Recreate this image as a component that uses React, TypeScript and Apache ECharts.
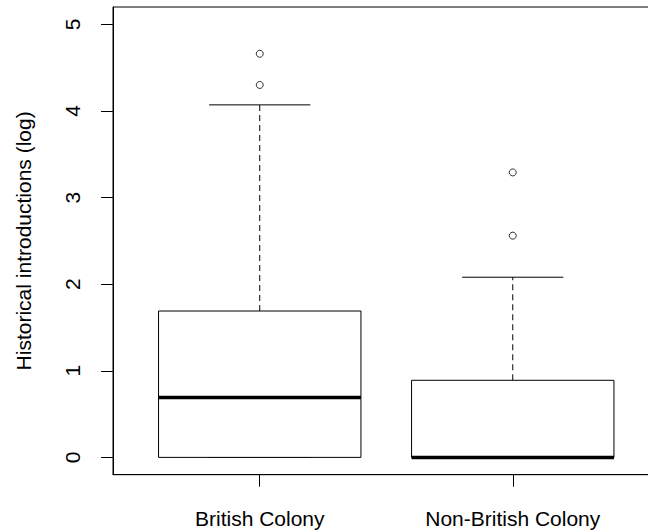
import React, { useEffect, useRef } from "react";
import * as echarts from "echarts";

const categories = ["British Colony", "Non-British Colony"];
const lowerWhisker = [0, 0];
const q1 = [0, 0];
const median = [0.69, 0];
const q3 = [1.69, 0.89];
const upperWhisker = [4.07, 2.08];
const outlierGroup = [1, 1, 2, 2];
const outlierValue = [4.3, 4.66, 2.56, 3.29];
const yTicks = [0, 1, 2, 3, 4, 5];
const xTicks = [1, 2];

const FONT = "Liberation Sans, Arial, sans-serif";

export default function App() {
  const ref = useRef<HTMLDivElement>(null);
  useEffect(() => {
    if (!ref.current) return;
    const chart = echarts.init(ref.current, undefined, { renderer: "svg" });
    const boxData = categories.map((_, i) => [
      i + 1,
      lowerWhisker[i],
      q1[i],
      median[i],
      q3[i],
      upperWhisker[i],
    ]);
    const outliers = outlierGroup.map((g, i) => [g, outlierValue[i]]);
    const lineStyle = { stroke: "#000", lineWidth: 1 };
    chart.setOption({
      animation: false,
      grid: {
        left: 113,
        top: 7,
        width: 546.5,
        height: 467.7,
        show: true,
        borderColor: "#000",
        borderWidth: 1,
        backgroundColor: "transparent",
        outerBoundsMode: "none",
        containLabel: false,
      },
      xAxis: {
        type: "value",
        min: 0.42,
        max: 2.58,
        splitLine: { show: false },
        axisLine: { show: true, onZero: false, lineStyle: { color: "#000" } },
        axisTick: { show: true, length: 12, customValues: xTicks, lineStyle: { color: "#000" } },
        axisLabel: {
          customValues: xTicks,
          formatter: (v: number) => categories[Math.round(v) - 1] ?? "",
          color: "#000",
          fontFamily: FONT,
          fontSize: 21,
          margin: 33,
        },
      },
      yAxis: {
        type: "value",
        min: -0.2,
        max: 5.2,
        name: "Historical introductions (log)",
        nameLocation: "middle",
        nameGap: 79,
        nameRotate: 90,
        nameTextStyle: { color: "#000", fontFamily: FONT, fontSize: 21 },
        splitLine: { show: false },
        axisLine: { show: true, onZero: false, lineStyle: { color: "#000" } },
        axisTick: { show: true, length: 12, customValues: yTicks, lineStyle: { color: "#000" } },
        axisLabel: {
          customValues: yTicks,
          rotate: 90,
          color: "#000",
          fontFamily: FONT,
          fontSize: 21,
          margin: 30,
        },
      },
      series: [
        {
          type: "custom",
          data: boxData,
          renderItem: (params: any, api: any) => {
            const x = api.value(0);
            const vmin = api.value(1);
            const vq1 = api.value(2);
            const vmed = api.value(3);
            const vq3 = api.value(4);
            const vmax = api.value(5);
            const halfBox = api.size([0.8, 0])[0] / 2;
            const halfCap = halfBox / 2;
            const c = api.coord([x, 0])[0];
            const y = (v: number) => api.coord([x, v])[1];
            return {
              type: "group",
              children: [
                {
                  type: "line",
                  shape: { x1: c, y1: y(vq3), x2: c, y2: y(vmax) },
                  style: { ...lineStyle, lineDash: [6, 4] },
                },
                {
                  type: "line",
                  shape: { x1: c, y1: y(vq1), x2: c, y2: y(vmin) },
                  style: { ...lineStyle, lineDash: [6, 4] },
                },
                {
                  type: "line",
                  shape: { x1: c - halfCap, y1: y(vmax), x2: c + halfCap, y2: y(vmax) },
                  style: lineStyle,
                },
                {
                  type: "line",
                  shape: { x1: c - halfCap, y1: y(vmin), x2: c + halfCap, y2: y(vmin) },
                  style: lineStyle,
                },
                {
                  type: "rect",
                  shape: {
                    x: c - halfBox,
                    y: y(vq3),
                    width: halfBox * 2,
                    height: y(vq1) - y(vq3),
                  },
                  style: { fill: "#fff", stroke: "#000", lineWidth: 1 },
                },
                {
                  type: "line",
                  shape: { x1: c - halfBox, y1: y(vmed), x2: c + halfBox, y2: y(vmed) },
                  style: { stroke: "#000", lineWidth: 3.5 },
                },
              ],
            };
          },
        },
        {
          type: "scatter",
          data: outliers,
          symbol: "circle",
          symbolSize: 7,
          itemStyle: { color: "#fff", borderColor: "#000", borderWidth: 1 },
          z: 5,
        },
      ],
    });
    return () => chart.dispose();
  }, []);
  return (
    <div
      ref={ref}
      style={{ position: "absolute", left: 0, top: 0, width: 648, height: 531, background: "#fff" }}
    />
  );
}
